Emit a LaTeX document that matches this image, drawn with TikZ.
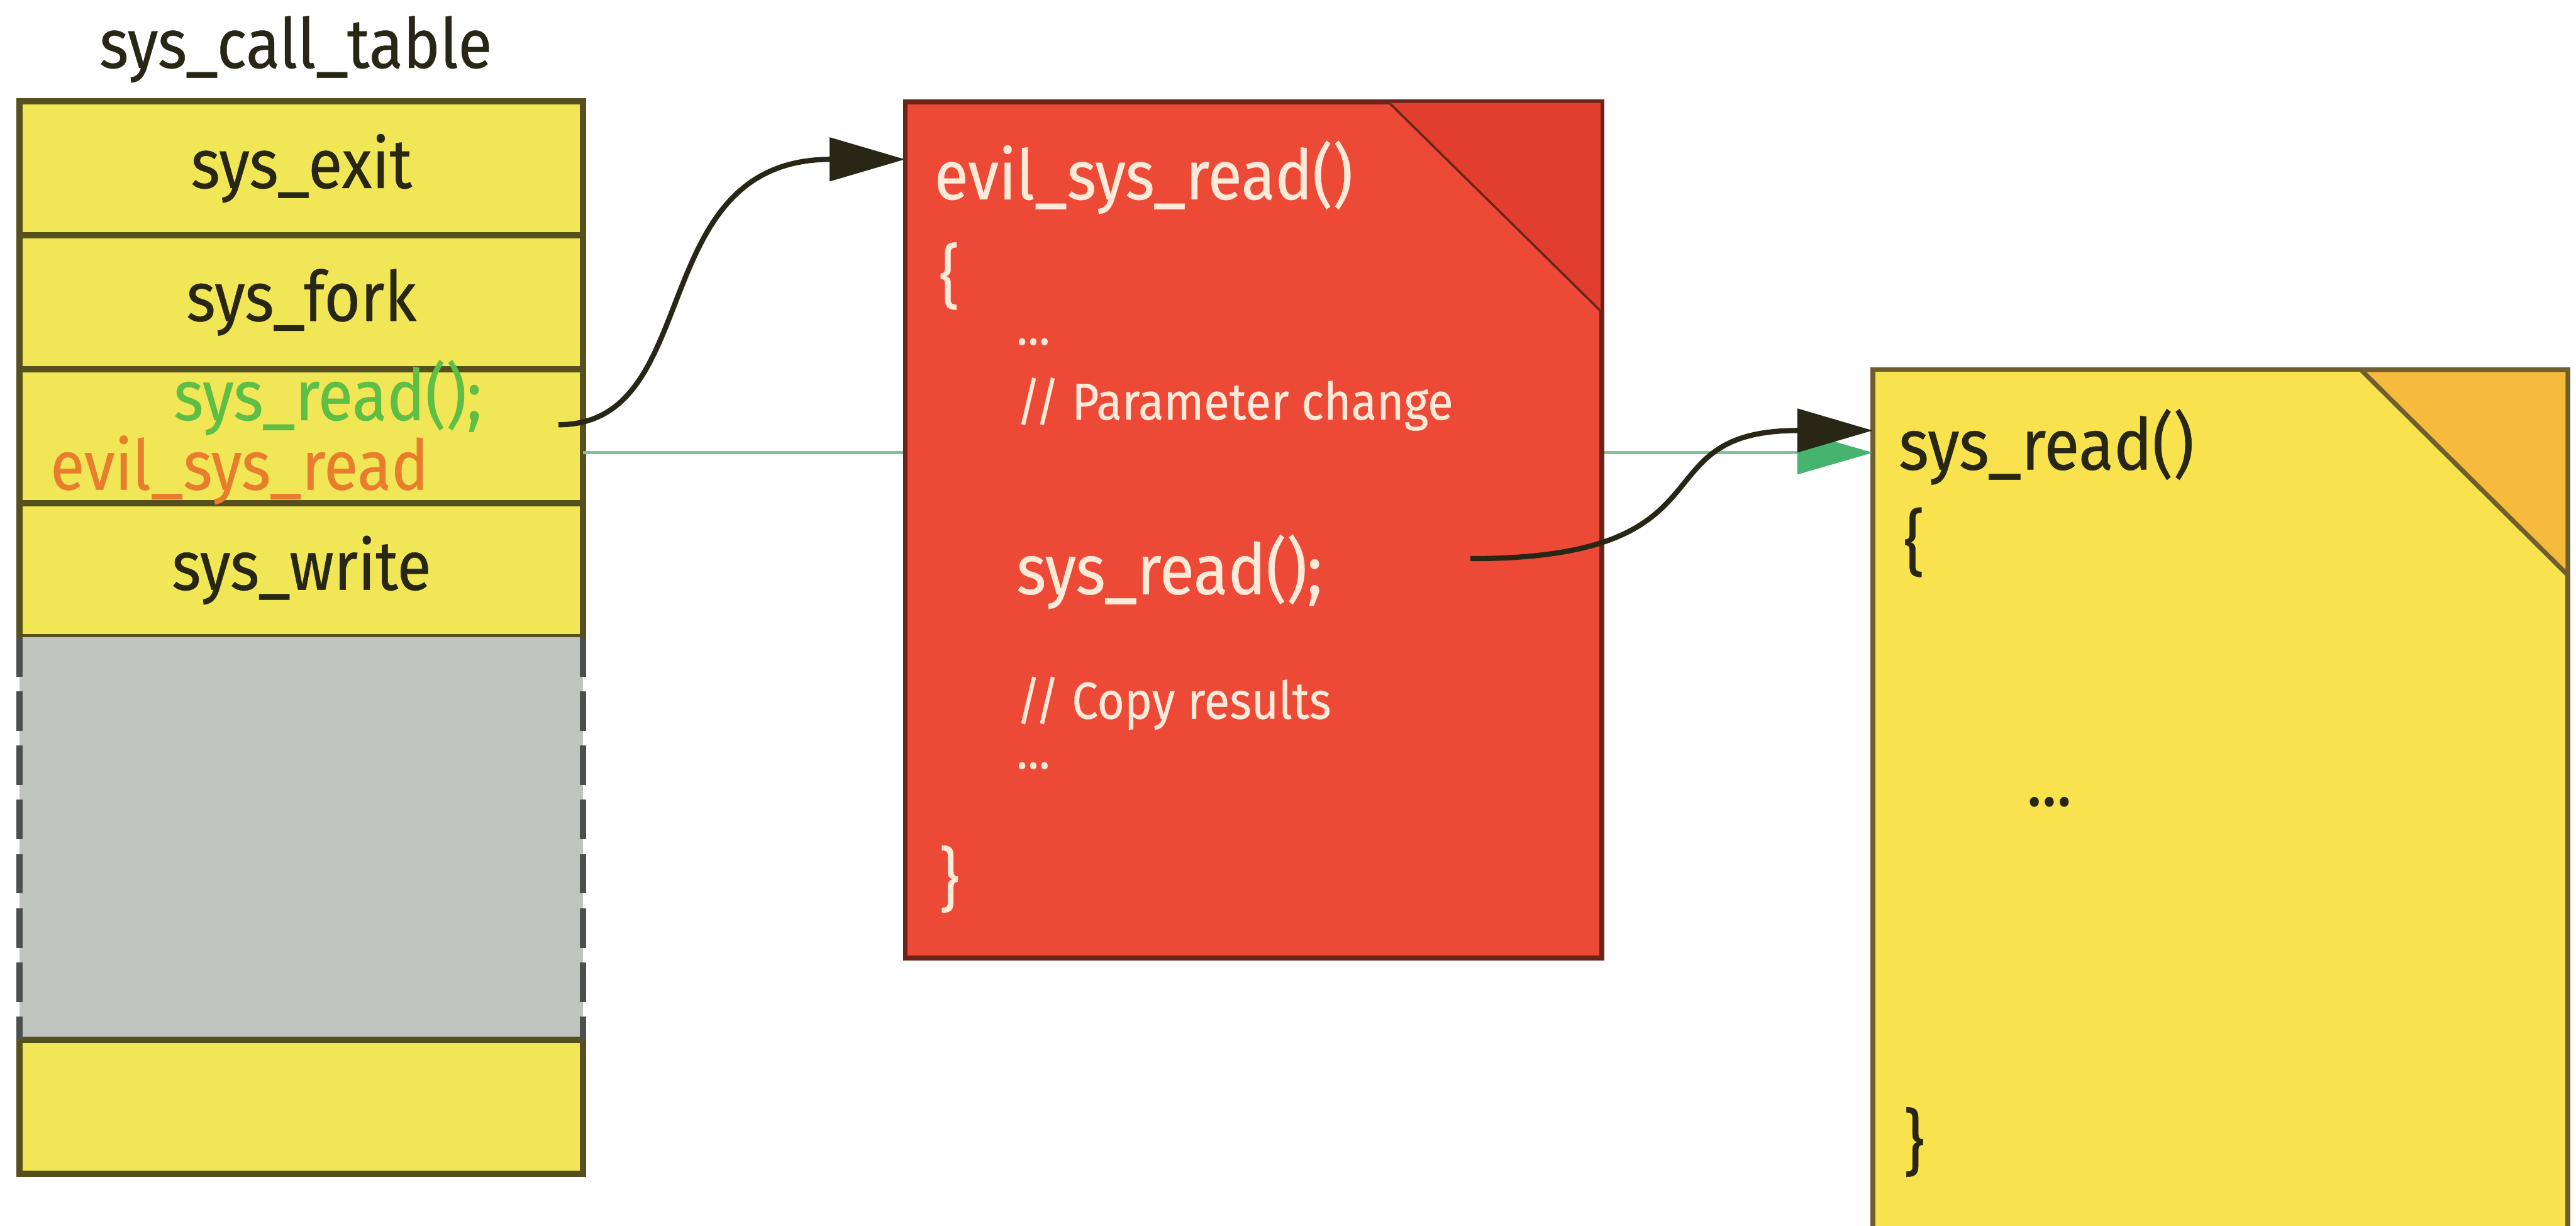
\documentclass[tikz,border=0pt]{standalone}
\usepackage{fontspec}
\setmainfont{Fira Sans}[FakeStretch=0.9,FakeBold=0.4]
\usetikzlibrary{positioning,arrows.meta,calc}
\definecolor{tabyel}{RGB}{241,231,86}
\definecolor{tabline}{RGB}{85,80,30}
\definecolor{gapgray}{RGB}{192,196,190}
\definecolor{gapline}{RGB}{75,80,78}
\definecolor{evilred}{RGB}{236,74,54}
\definecolor{evilfold}{RGB}{226,62,48}
\definecolor{evilline}{RGB}{110,35,25}
\definecolor{evtext}{RGB}{255,234,218}
\definecolor{readyel}{RGB}{248,226,78}
\definecolor{readfold}{RGB}{246,186,60}
\definecolor{readline}{RGB}{110,95,45}
\definecolor{greenln}{RGB}{130,195,150}
\definecolor{greentip}{RGB}{70,180,110}
\definecolor{greentx}{RGB}{95,190,70}
\definecolor{orangetx}{RGB}{232,125,45}
\definecolor{ink}{RGB}{40,38,20}

\begin{document}
\begin{tikzpicture}[
 cell/.style={draw=tabline,line width=1.1pt,fill=tabyel,minimum width=3.43cm,minimum height=.815cm,inner sep=0,outer sep=0,font=\fontsize{12}{14}\selectfont,text=ink},
 page/.style={line width=.8pt,anchor=north west,inner sep=0,outer sep=0},
 t/.style={anchor=west,inner sep=0,font=\fontsize{12}{14}\selectfont},
 ct/.style={t,text=evtext},
 cmt/.style={ct,font=\fontsize{9}{11}\selectfont},
 yt/.style={t,text=ink},
 a/.style={-{Triangle[length=4.6mm,width=2.6mm]},line width=.9pt,draw=ink}]
\useasboundingbox (0,0) rectangle (15.68,7.46);
\node[cell] (exit) at (1.835,6.435) {sys\_exit};
\node[cell,below=0pt of exit] (fork) {sys\_fork};
\node[cell,below=0pt of fork] (read) {};
\node[cell,below=0pt of read] (write) {sys\_write};
\node[cell,draw=none,fill=gapgray,minimum height=2.45cm,below=0pt of write] (gap) {};
\node[cell,below=0pt of gap] (last) {};
\draw[gapline,line width=1.1pt,dash pattern=on .24cm off .09cm] (gap.north west)--(gap.south west) (gap.north east)--(gap.south east);
\node[text=ink,font=\fontsize{12}{14}\selectfont] (title) at (1.80,7.16) {sys\_call\_table};
\node[t,text=greentx,font=\fontsize{12.3}{14}\selectfont] (old) at (1.05,5.04) {sys\_read();};
\node[t,text=orangetx] (new) at (0.30,4.60) {evil\_sys\_read};

\node[page,fill=readyel,draw=readline,minimum width=4.23cm,minimum height=5.31cm] (sysread) at (11.40,5.21) {};
\filldraw[fill=readfold,draw=readline,line width=.8pt] ($(sysread.north east)+(-1.26,0)$) -- (sysread.north east) -- ($(sysread.north east)+(0,-1.25)$) -- cycle;
\node[yt,font=\fontsize{12.4}{14}\selectfont] (rhead) at (11.55,4.74) {sys\_read()};
\node[yt,font=\fontsize{12.4}{14}\selectfont] (ropen) at (11.58,4.16) {\{};
\node[yt] (rdots) at (12.33,2.58) {...};
\node[yt,font=\fontsize{12.4}{14}\selectfont] (rclose) at (11.58,0.51) {\}};

\coordinate (g0) at ($(read.east)+(0,-.1)$);
\draw[greenln,line width=.6pt,-{Triangle[length=4.6mm,width=2.6mm,color=greentip]}] (g0) -- (g0 -| sysread.west);

\node[page,fill=evilred,draw=evilline,minimum width=4.24cm,minimum height=5.21cm] (evil) at (5.51,6.84) {};
\filldraw[fill=evilfold,draw=evilline,line width=.4pt] ($(evil.north east)+(-1.30,0)$) -- (evil.north east) -- ($(evil.north east)+(0,-1.28)$) -- cycle;
\node[ct] (ehead) at (5.68,6.38) {evil\_sys\_read()};
\node[ct] (eopen) at (5.71,5.78) {\{};
\node[cmt] (edots1) at (6.18,5.38) {...};
\node[cmt] (param) at (6.18,5.00) {// Parameter change};
\node[ct,font=\fontsize{12.2}{14}\selectfont] (ecall) at (6.18,3.98) {sys\_read();};
\node[cmt] (copy) at (6.18,3.18) {// Copy results};
\node[cmt] (edots2) at (6.18,2.80) {...};
\node[ct] (eclose) at (5.71,2.11) {\}};

\coordinate (s1) at ($(read.east)+(-.15,.07)$);
\coordinate (e1) at ($(evil.north west)+(0,-.35)$);
\draw[a] (s1) .. controls ($(s1)+(.9,0)$) and ($(e1)+(-1.6,0)$) .. (e1);
\coordinate (s2) at ($(evil.north west)+(3.44,-2.78)$);
\coordinate (e2) at ($(sysread.north west)+(0,-.37)$);
\draw[a] (s2) .. controls ($(s2)+(1.65,0)$) and ($(e2)+(-1.45,0)$) .. (e2);
\end{tikzpicture}
\end{document}
